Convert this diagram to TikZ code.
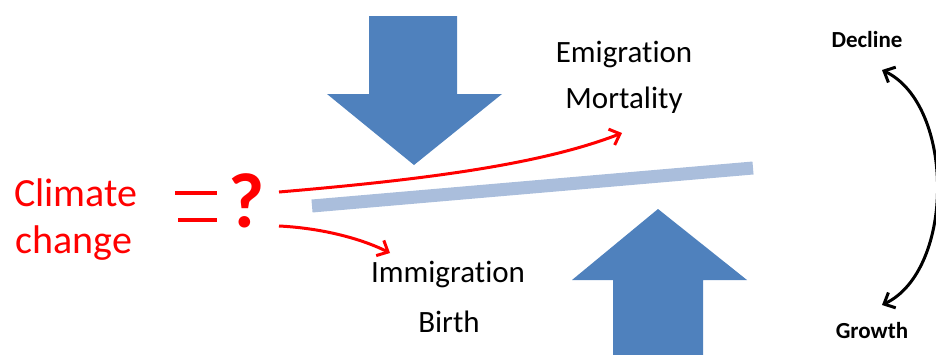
\documentclass[tikz,border=0pt]{standalone}
\usepackage{fontspec}
\setmainfont[Ligatures=CommonOff]{Carlito}
\usetikzlibrary{arrows.meta}
\definecolor{arrowblue}{HTML}{4F81BD}
\definecolor{barblue}{HTML}{AABEDC}
\definecolor{climred}{HTML}{FF0000}
\begin{document}
\begin{tikzpicture}[x=1pt,y=-1pt,
  redtext/.style={text=climred, inner sep=0pt, anchor=base, font=\fontsize{40}{48}\selectfont},
  qmark/.style={text=climred, inner sep=0pt, anchor=base, font=\bfseries\fontsize{78}{92}\selectfont},
  ratelabel/.style={inner sep=0pt, anchor=base, font=\fontsize{31}{37}\selectfont},
  endlabel/.style={inner sep=0pt, anchor=base, font=\bfseries\fontsize{23}{28}\selectfont},
  redarrow/.style={climred, line width=3pt, -{Straight Barb[length=9pt,width=17pt]}},
  redstroke/.style={climred, line width=3.5pt},
  cyclearrow/.style={black, line width=3pt, {Straight Barb[length=9pt,width=17pt]}-{Straight Barb[length=9pt,width=17pt]}},
  bigarrow/.style={fill=arrowblue, draw=none},
  trend/.style={barblue, line width=13pt}
]
\useasboundingbox (0,0) rectangle (936,354);

% population trend bar
\draw[trend] (312,206) -- (753,168);

% pressure arrows
\path[bigarrow] (369,16) -- (457,16) -- (457,94) -- (502,94) -- (414,165)
  -- (327,94) -- (369,94) -- cycle;
\path[bigarrow] (613,360) -- (613,280) -- (572,280) -- (658,209) -- (747,280)
  -- (703,280) -- (703,360) -- cycle;

% climate change driver
\node[redtext] (climate) at (76,206) {Climate};
\node[redtext] (change) at (74,253) {change};
\draw[redstroke] (175,193) -- (217,193);
\draw[redstroke] (178,220) -- (217,220);
\node[qmark] (q) at (247,227) {?};

% demographic rates
\node[ratelabel] (emig) at (624,62) {Emigration};
\node[ratelabel] (mort) at (624,108) {Mortality};
\node[ratelabel] (immig) at (448,282) {Immigration};
\node[ratelabel] (birth) at (449,332) {Birth};

\coordinate (qup) at (279,192);
\coordinate (qdown) at (279,226);
\coordinate (emtip) at (622,133);
\coordinate (imtip) at (390,253);
\draw[redarrow] (qup) .. controls (420,180) and (540,165) .. (emtip);
\draw[redarrow] (qdown) .. controls (320,228) and (360,238) .. (imtip);

% population outcome
\node[endlabel] (decline) at (867,47) {Decline};
\node[endlabel] (growth) at (872,338) {Growth};
\coordinate (dectip) at (882,70);
\coordinate (grotip) at (882,305);
\draw[cyclearrow] (dectip) .. controls (955,105) and (955,270) .. (grotip);
\end{tikzpicture}
\end{document}
